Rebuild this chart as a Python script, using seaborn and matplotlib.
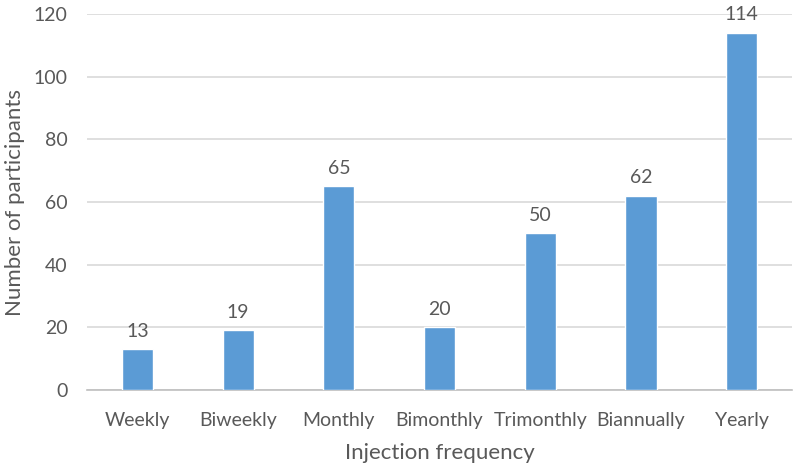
import pandas as pd
import matplotlib
matplotlib.use("Agg")
import matplotlib.pyplot as plt
import seaborn as sns

# injection frequency vs number of participants
categories = ['Weekly', 'Biweekly', 'Monthly', 'Bimonthly', 'Trimonthly', 'Biannually', 'Yearly']
participants = [13, 19, 65, 20, 50, 62, 114]

df = pd.DataFrame({'freq': categories, 'n': participants})

sns.set_theme(style="white")
plt.rcParams['font.family'] = ['Lato', 'DejaVu Sans']
txt = '#595959'

fig = plt.figure(figsize=(7.94, 4.69), dpi=100)
ax = fig.add_axes([0.1098, 0.1684, 0.8876, 0.8017])

sns.barplot(data=df, x='freq', y='n', color='#5B9BD5', saturation=1, width=0.31, ax=ax, zorder=3)

for i, v in enumerate(participants):
    ax.annotate(str(v), (i, v), xytext=(0, 7), textcoords='offset points',
                ha='center', va='bottom', fontsize=14, color=txt)

ax.set_ylim(0, 120)
ax.set_xlim(-0.5, 6.5)
ax.set_yticks(range(0, 121, 20))
ax.yaxis.grid(True, color='#D9D9D9', linewidth=1.2, zorder=0)
ax.set_axisbelow(True)
for s in ['top', 'right', 'left']:
    ax.spines[s].set_visible(False)
ax.spines['bottom'].set_color('#BFBFBF')
ax.spines['bottom'].set_linewidth(1.2)
ax.tick_params(axis='both', length=0, labelsize=14, labelcolor=txt)
ax.tick_params(axis='y', pad=14)
ax.tick_params(axis='x', pad=16)
ax.set_xlabel('Injection frequency', fontsize=16, color=txt)
ax.set_ylabel('Number of participants', fontsize=16, color=txt)
ax.xaxis.set_label_coords(0.5, -0.14)
ax.yaxis.set_label_coords(-0.088, 0.5)

fig.savefig('out.png', dpi=100)
